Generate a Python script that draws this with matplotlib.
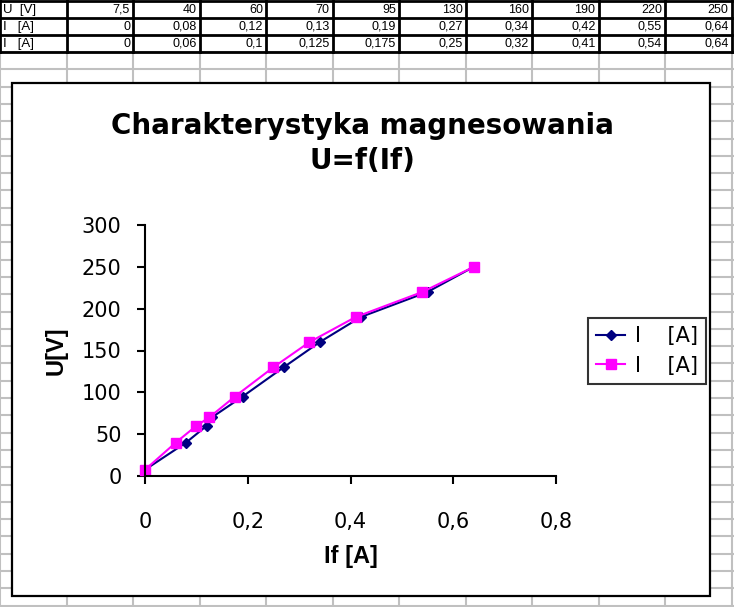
import matplotlib.pyplot as plt
from matplotlib.patches import Rectangle

plt.rcParams['font.family'] = ['DejaVu Sans']

# data from the sheet
U = [7.5, 40, 60, 70, 95, 130, 160, 190, 220, 250]
I1 = [0, 0.08, 0.12, 0.13, 0.19, 0.27, 0.34, 0.42, 0.55, 0.64]
I2 = [0, 0.06, 0.1, 0.125, 0.175, 0.25, 0.32, 0.41, 0.54, 0.64]
row_names = ['U  [V]', 'I   [A]', 'I   [A]']
x_ticks = [0, 0.2, 0.4, 0.6, 0.8]
y_ticks = [0, 50, 100, 150, 200, 250, 300]


def fmt(v):
    return ('%g' % v).replace('.', ',')


W, H = 734, 607
fig = plt.figure(figsize=(W / 100, H / 100), dpi=100)

# spreadsheet background, pixel coordinates
bg = fig.add_axes([0, 0, 1, 1])
bg.set_xlim(0, W)
bg.set_ylim(H, 0)
bg.axis('off')

col_w = 66.5
row_h = 17.3
cols = [i * col_w for i in range(12)]
grey = '#c0c0c0'

y = 52
while y < H + row_h:
    bg.plot([0, W], [y, y], color=grey, lw=1.5)
    y += row_h
for x in cols:
    bg.plot([x, x], [52, H], color=grey, lw=1.5)

# table with the measurements
rows = [U, I1, I2]
row_y = [0.8, 17.5, 35, 52]
for y in row_y:
    bg.plot([0, cols[-1]], [y, y], color='black', lw=2, zorder=2)
for x in cols:
    bg.plot([x, x], [0, 52], color='black', lw=2, zorder=2)
for r, vals in enumerate(rows):
    yc = (row_y[r] + row_y[r + 1]) / 2 + 0.5
    bg.text(3, yc, row_names[r], ha='left', va='center', fontsize=9.5,
            family='Liberation Sans')
    for c, v in enumerate(vals):
        bg.text(cols[c + 2] - 3, yc, fmt(v), ha='right', va='center',
                fontsize=9, family='Liberation Sans')

# chart box
bg.add_patch(Rectangle((12, 83), 698, 513, facecolor='white',
                       edgecolor='black', lw=1.6, zorder=3))

fig.text(362 / W, 1 - 126 / H, 'Charakterystyka magnesowania', ha='center',
         va='center', fontsize=20, fontweight='bold')
fig.text(362 / W, 1 - 161 / H, 'U=f(If)', ha='center', va='center',
         fontsize=20, fontweight='bold')

ax = fig.add_axes([145 / W, 1 - 476 / H, (556 - 145) / W, (476 - 225) / H])
ax.patch.set_visible(False)
ax.plot(I1, U, color='#000080', marker='D', ms=5, lw=1.5, clip_on=False,
        label='I    [A]')
ax.plot(I2, U, color='#ff00ff', marker='s', ms=6.5, lw=1.5, clip_on=False,
        label='I    [A]')

ax.set_xlim(0, 0.8)
ax.set_ylim(0, 300)
ax.set_xticks(x_ticks)
ax.set_xticklabels([fmt(v) for v in x_ticks])
ax.set_yticks(y_ticks)
ax.set_yticklabels([fmt(v) for v in y_ticks])
ax.tick_params(direction='out', length=6, width=1.5, labelsize=15)
ax.tick_params(axis='x', pad=20)
ax.tick_params(axis='y', pad=11)
for s in ['top', 'right']:
    ax.spines[s].set_visible(False)
for s in ['left', 'bottom']:
    ax.spines[s].set_linewidth(1.5)

fig.text(351 / W, 1 - 556 / H, 'If [A]', ha='center', va='center',
         fontsize=17, fontweight='bold', family='Liberation Sans')
fig.text(56 / W, 1 - 351 / H, 'U[V]', ha='center', va='center',
         rotation=90, fontsize=17, fontweight='bold', family='Liberation Sans')

leg = ax.legend(loc='center', bbox_to_anchor=(647 / W, 1 - 351 / H),
                bbox_transform=fig.transFigure, fontsize=15, frameon=True,
                fancybox=False, edgecolor='black', handlelength=1.4,
                handletextpad=0.45, borderpad=0.4, labelspacing=0.45)
leg.get_frame().set_linewidth(1.5)

fig.savefig('out.png', dpi=100)
